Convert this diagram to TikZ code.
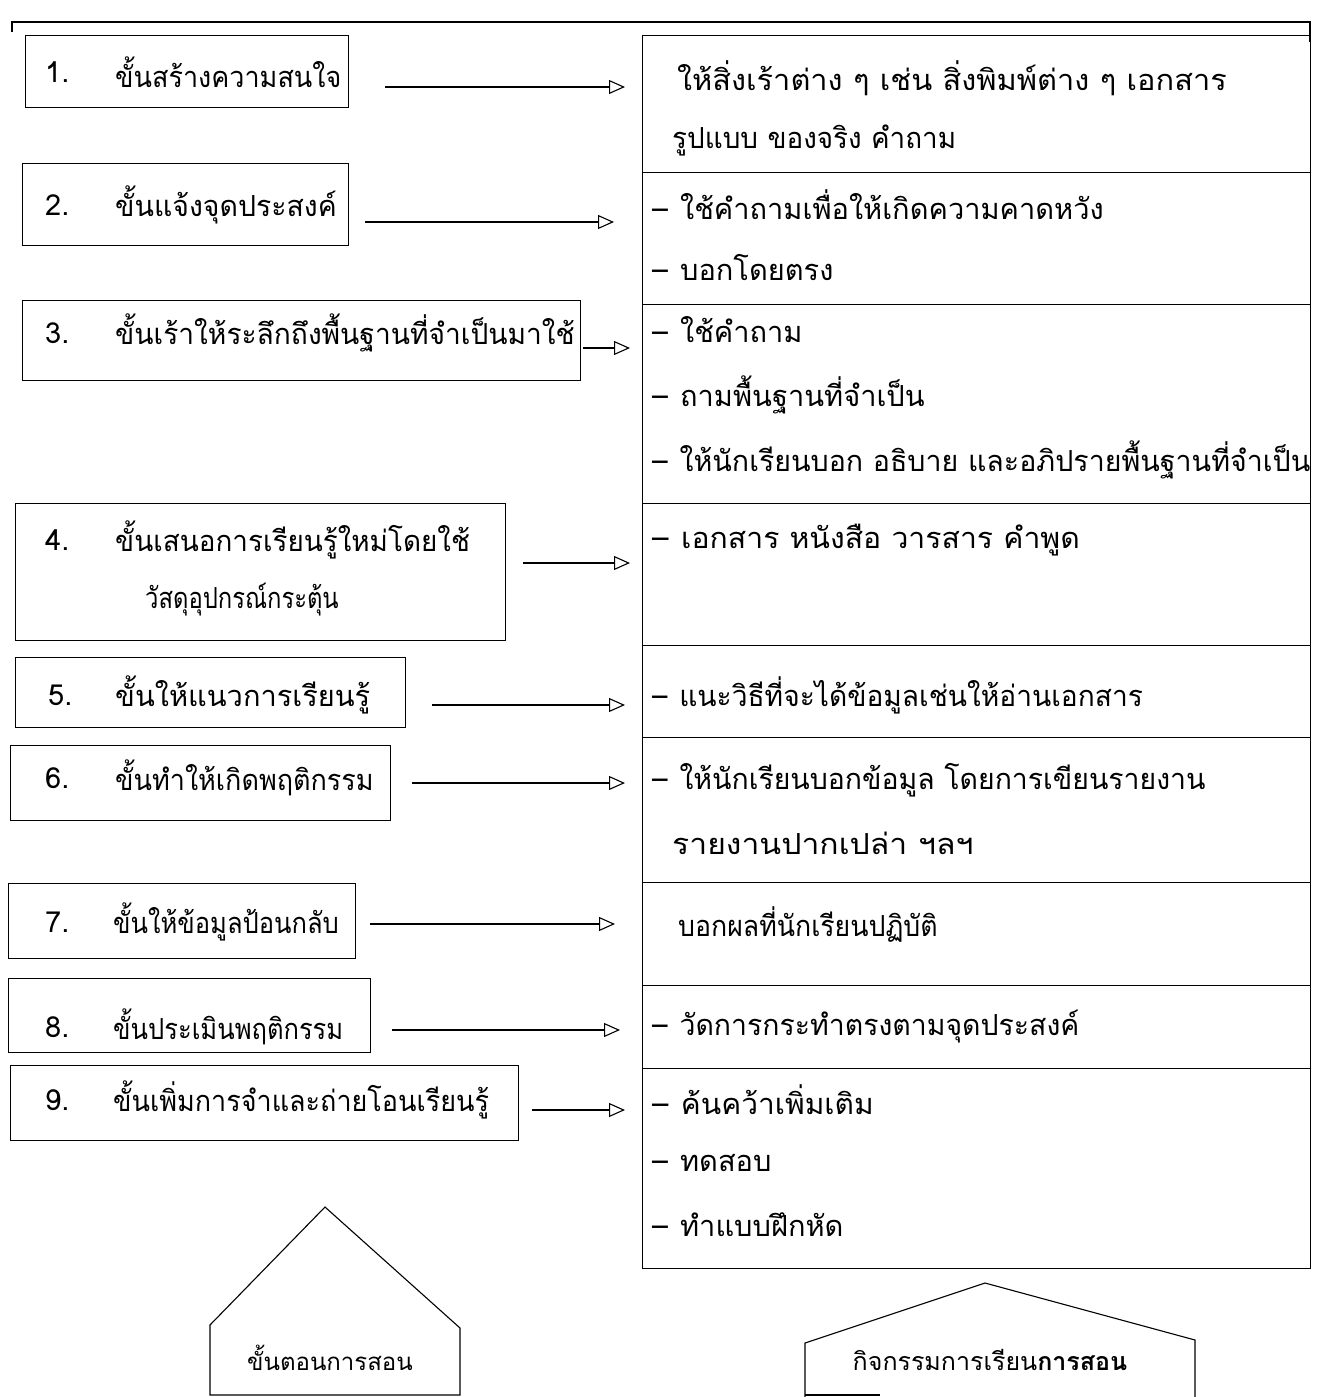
\documentclass[tikz,border=0pt]{standalone}
\usepackage{fontspec}
\setmainfont[Script=Thai]{Loma}
\usetikzlibrary{arrows.meta}
\newcommand\hsc[2]{\scalebox{#1}[1]{#2}}
\newcommand\dsh{–\hspace{12pt}}
\begin{document}
\begin{tikzpicture}[x=1pt,y=-1pt,
  ln/.style={line width=1.1pt},
  stepbox/.style={draw, line width=1.1pt, inner sep=0pt, anchor=north west},
  rowbox/.style={draw, line width=1.1pt, inner sep=0pt, anchor=north west, minimum width=668pt},
  txt/.style={anchor=west, inner sep=0pt, font=\fontsize{29}{34}\selectfont},
  small/.style={inner sep=0pt, font=\fontsize{24}{28}\selectfont},
  arr/.style={line width=1.1pt, -{Triangle[open,length=16pt,width=14pt,line width=1.1pt]}}]
\useasboundingbox (0,0) rectangle (1333,1397);

% top frame line
\draw[ln] (12,32) -- (12,22) -- (1310,22) -- (1310,42);

% left step boxes
\node[stepbox, minimum width=323pt, minimum height=72pt] (b1) at (25,35) {};
\node[stepbox, minimum width=326pt, minimum height=82pt] (b2) at (22,163) {};
\node[stepbox, minimum width=558pt, minimum height=80pt] (b3) at (22,300) {};
\node[stepbox, minimum width=490pt, minimum height=137pt] (b4) at (15,503) {};
\node[stepbox, minimum width=390pt, minimum height=70pt] (b5) at (15,657) {};
\node[stepbox, minimum width=380pt, minimum height=75pt] (b6) at (10,745) {};
\node[stepbox, minimum width=347pt, minimum height=75pt] (b7) at (8,883) {};
\node[stepbox, minimum width=362pt, minimum height=74pt] (b8) at (8,978) {};
\node[stepbox, minimum width=508pt, minimum height=75pt] (b9) at (10,1065) {};

% numbers
\node[txt] (n1) at (45,72) {1.};
\node[txt] (n2) at (45,205) {2.};
\node[txt] (n3) at (45,333) {3.};
\node[txt] (n4) at (45,540) {4.};
\node[txt] (n5) at (48,695) {5.};
\node[txt] (n6) at (45,778) {6.};
\node[txt] (n7) at (45,922) {7.};
\node[txt] (n8) at (45,1027) {8.};
\node[txt] (n9) at (45,1100) {9.};

% step texts
\node[txt] (t1) at (115,72) {\hsc{0.93}{ขั้นสร้างความสนใจ}};
\node[txt] (t2) at (115,205) {\hsc{0.98}{ขั้นแจ้งจุดประสงค์}};
\node[txt] (t3) at (115,333) {\hsc{0.97}{ขั้นเร้าให้ระลึกถึงพื้นฐานที่จำเป็นมาใช้}};
\node[txt] (t4a) at (115,540) {\hsc{0.96}{ขั้นเสนอการเรียนรู้ใหม่โดยใช้}};
\node[txt] (t4b) at (145,600) {\hsc{0.82}{วัสดุอุปกรณ์กระตุ้น}};
\node[txt] (t5) at (115,695) {ขั้นให้แนวการเรียนรู้};
\node[txt] (t6) at (115,778) {\hsc{0.93}{ขั้นทำให้เกิดพฤติกรรม}};
\node[txt] (t7) at (113,922) {\hsc{0.88}{ขั้นให้ข้อมูลป้อนกลับ}};
\node[txt] (t8) at (113,1027) {\hsc{0.88}{ขั้นประเมินพฤติกรรม}};
\node[txt] (t9) at (113,1100) {\hsc{0.93}{ขั้นเพิ่มการจำและถ่ายโอนเรียนรู้}};

% right activity column
\node[rowbox, minimum height=137pt] (r1) at (642,35) {};
\node[rowbox, minimum height=132pt] (r2) at (642,172) {};
\node[rowbox, minimum height=199pt] (r3) at (642,304) {};
\node[rowbox, minimum height=142pt] (r4) at (642,503) {};
\node[rowbox, minimum height=92pt] (r5) at (642,645) {};
\node[rowbox, minimum height=145pt] (r6) at (642,737) {};
\node[rowbox, minimum height=103pt] (r7) at (642,882) {};
\node[rowbox, minimum height=83pt] (r8) at (642,985) {};
\node[rowbox, minimum height=200pt] (r9) at (642,1068) {};

\node[txt] (a1a) at (677,78) {\hsc{1.06}{ให้สิ่งเร้าต่าง ๆ เช่น สิ่งพิมพ์ต่าง ๆ เอกสาร}};
\node[txt] (a1b) at (672,140) {\hsc{0.96}{รูปแบบ ของจริง คำถาม}};
\node[txt] (a2a) at (652,205) {\dsh ใช้คำถามเพื่อให้เกิดความคาดหวัง};
\node[txt] (a2b) at (652,268) {\dsh บอกโดยตรง};
\node[txt] (a3a) at (652,330) {\dsh ใช้คำถาม};
\node[txt] (a3b) at (652,395) {\dsh ถามพื้นฐานที่จำเป็น};
\node[txt] (a3c) at (652,460) {\hsc{0.985}{\dsh ให้นักเรียนบอก อธิบาย และอภิปรายพื้นฐานที่จำเป็น}};
\node[txt] (a4) at (652,540) {\hsc{1.04}{\dsh เอกสาร หนังสือ วารสาร คำพูด}};
\node[txt] (a5) at (652,695) {\hsc{0.97}{\dsh แนะวิธีที่จะได้ข้อมูลเช่นให้อ่านเอกสาร}};
\node[txt] (a6a) at (652,780) {\hsc{0.98}{\dsh ให้นักเรียนบอกข้อมูล โดยการเขียนรายงาน}};
\node[txt] (a6b) at (672,843) {\hsc{1.1}{รายงานปากเปล่า ฯลฯ}};
\node[txt] (a7) at (678,925) {\hsc{0.92}{บอกผลที่นักเรียนปฏิบัติ}};
\node[txt] (a8) at (652,1027) {\hsc{0.98}{\dsh วัดการกระทำตรงตามจุดประสงค์}};
\node[txt] (a9a) at (652,1100) {\hsc{1.03}{\dsh ค้นคว้าเพิ่มเติม}};
\node[txt] (a9b) at (652,1163) {\dsh ทดสอบ};
\node[txt] (a9c) at (652,1225) {\dsh ทำแบบฝึกหัด};

% arrows
\coordinate (s1) at (385,87);   \coordinate (e1) at (625,87);
\coordinate (s2) at (365,222);  \coordinate (e2) at (614,222);
\coordinate (s3) at (583,348);  \coordinate (e3) at (630,348);
\coordinate (s4) at (523,563);  \coordinate (e4) at (630,563);
\coordinate (s5) at (432,705);  \coordinate (e5) at (625,705);
\coordinate (s6) at (412,783);  \coordinate (e6) at (625,783);
\coordinate (s7) at (370,924);  \coordinate (e7) at (615,924);
\coordinate (s8) at (392,1030); \coordinate (e8) at (620,1030);
\coordinate (s9) at (532,1110); \coordinate (e9) at (625,1110);
\foreach \i in {1,...,9} {\draw[arr] (s\i) -- (e\i);}

% bottom labels (houses)
\draw[ln] (210,1395) -- (210,1325) -- (325,1207) -- (460,1328) -- (460,1395) -- cycle;
\node[small] (h1) at (330,1358) {ขั้นตอนการสอน};
\draw[ln] (805,1397) -- (805,1343) -- (985,1283) -- (1195,1340) -- (1195,1397);
\draw[ln] (805,1395) -- (880,1395);
\node[small, font=\fontsize{25}{29}\selectfont] (h2) at (990,1360) {กิจกรรมการเรียน\textbf{การสอน}};
\end{tikzpicture}
\end{document}
